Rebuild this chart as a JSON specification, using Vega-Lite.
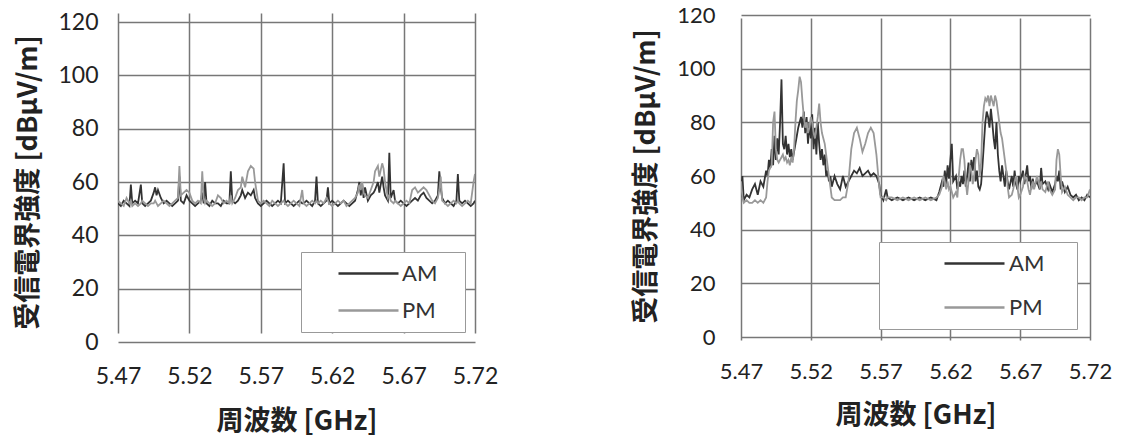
{
  "$schema": "https://vega.github.io/schema/vega-lite/v6.json",
  "background": "white",
  "padding": {"left": 14, "top": 4, "right": 5, "bottom": 5},
  "spacing": 134,
  "config": {
    "view": {"stroke": null},
    "axis": {
      "labelFont": "Lato", "labelFontSize": 23, "labelColor": "#222", "labelFlush": false, "labelOverlap": false,
      "titleFont": "Noto Sans CJK JP", "titleFontWeight": "bold", "titleFontSize": 27, "titleColor": "#222",
      "gridColor": "#777", "gridWidth": 1.5, "domain": false, "ticks": false
    },
    "legend": {
      "orient": "bottom-right", "title": null,
      "strokeColor": "#999", "padding": 10, "symbolType": "M-3,0H3",
      "symbolSize": 400, "symbolStrokeWidth": 2.5, "labelFont": "Lato", "labelFontSize": 22,
      "labelColor": "#333", "fillColor": "white"
    }
  },
  "datasets": {
    "left": [
      {"f":5.470,"AM":52,"PM":53},{"f":5.472,"AM":51,"PM":52},{"f":5.474,"AM":53,"PM":51},{"f":5.476,"AM":52,"PM":54},
      {"f":5.478,"AM":51,"PM":52},{"f":5.479,"AM":59,"PM":53},{"f":5.480,"AM":52,"PM":51},{"f":5.482,"AM":53,"PM":52},
      {"f":5.484,"AM":52,"PM":51},{"f":5.486,"AM":59,"PM":52},{"f":5.487,"AM":52,"PM":53},{"f":5.489,"AM":51,"PM":52},
      {"f":5.491,"AM":52,"PM":51},{"f":5.493,"AM":53,"PM":52},{"f":5.495,"AM":56,"PM":52},{"f":5.496,"AM":58,"PM":53},
      {"f":5.497,"AM":55,"PM":52},{"f":5.498,"AM":57,"PM":51},{"f":5.500,"AM":54,"PM":52},{"f":5.502,"AM":52,"PM":53},
      {"f":5.504,"AM":53,"PM":52},{"f":5.506,"AM":52,"PM":51},{"f":5.508,"AM":51,"PM":52},{"f":5.510,"AM":52,"PM":53},
      {"f":5.512,"AM":53,"PM":54},{"f":5.513,"AM":62,"PM":66},{"f":5.514,"AM":53,"PM":55},{"f":5.516,"AM":52,"PM":56},
      {"f":5.518,"AM":55,"PM":57},{"f":5.520,"AM":53,"PM":56},{"f":5.522,"AM":52,"PM":53},{"f":5.524,"AM":51,"PM":52},
      {"f":5.526,"AM":52,"PM":53},{"f":5.528,"AM":53,"PM":52},{"f":5.529,"AM":56,"PM":64},{"f":5.530,"AM":52,"PM":54},
      {"f":5.531,"AM":60,"PM":52},{"f":5.532,"AM":52,"PM":53},{"f":5.534,"AM":51,"PM":52},{"f":5.536,"AM":53,"PM":51},
      {"f":5.538,"AM":52,"PM":52},{"f":5.540,"AM":52,"PM":55},{"f":5.542,"AM":51,"PM":54},{"f":5.544,"AM":53,"PM":52},
      {"f":5.546,"AM":52,"PM":53},{"f":5.548,"AM":52,"PM":52},{"f":5.549,"AM":64,"PM":55},{"f":5.550,"AM":53,"PM":52},
      {"f":5.552,"AM":52,"PM":54},{"f":5.554,"AM":53,"PM":57},{"f":5.556,"AM":55,"PM":58},{"f":5.557,"AM":57,"PM":62},
      {"f":5.559,"AM":54,"PM":58},{"f":5.561,"AM":56,"PM":64},{"f":5.563,"AM":55,"PM":66},{"f":5.565,"AM":57,"PM":65},
      {"f":5.566,"AM":54,"PM":60},{"f":5.568,"AM":52,"PM":53},{"f":5.570,"AM":51,"PM":52},{"f":5.572,"AM":52,"PM":53},
      {"f":5.574,"AM":53,"PM":52},{"f":5.576,"AM":52,"PM":51},{"f":5.578,"AM":51,"PM":53},{"f":5.580,"AM":52,"PM":52},
      {"f":5.582,"AM":53,"PM":51},{"f":5.584,"AM":52,"PM":52},{"f":5.586,"AM":67,"PM":53},{"f":5.587,"AM":52,"PM":52},
      {"f":5.589,"AM":53,"PM":51},{"f":5.591,"AM":52,"PM":52},{"f":5.593,"AM":51,"PM":53},{"f":5.595,"AM":52,"PM":52},
      {"f":5.597,"AM":53,"PM":51},{"f":5.599,"AM":52,"PM":57},{"f":5.600,"AM":52,"PM":52},{"f":5.602,"AM":53,"PM":51},
      {"f":5.604,"AM":52,"PM":52},{"f":5.606,"AM":51,"PM":53},{"f":5.608,"AM":53,"PM":52},{"f":5.609,"AM":62,"PM":53},
      {"f":5.610,"AM":52,"PM":52},{"f":5.612,"AM":51,"PM":53},{"f":5.614,"AM":52,"PM":52},{"f":5.616,"AM":53,"PM":54},
      {"f":5.617,"AM":58,"PM":53},{"f":5.618,"AM":52,"PM":52},{"f":5.620,"AM":53,"PM":51},{"f":5.622,"AM":52,"PM":52},
      {"f":5.624,"AM":51,"PM":53},{"f":5.626,"AM":52,"PM":52},{"f":5.628,"AM":53,"PM":53},{"f":5.630,"AM":52,"PM":51},
      {"f":5.632,"AM":51,"PM":52},{"f":5.634,"AM":52,"PM":53},{"f":5.636,"AM":53,"PM":54},{"f":5.638,"AM":57,"PM":56},
      {"f":5.639,"AM":60,"PM":59},{"f":5.640,"AM":55,"PM":57},{"f":5.641,"AM":59,"PM":60},{"f":5.642,"AM":54,"PM":56},
      {"f":5.643,"AM":58,"PM":55},{"f":5.645,"AM":53,"PM":54},{"f":5.647,"AM":55,"PM":57},{"f":5.649,"AM":56,"PM":60},
      {"f":5.650,"AM":57,"PM":64},{"f":5.652,"AM":60,"PM":66},{"f":5.653,"AM":56,"PM":62},{"f":5.655,"AM":62,"PM":67},
      {"f":5.656,"AM":58,"PM":65},{"f":5.657,"AM":55,"PM":60},{"f":5.659,"AM":53,"PM":54},{"f":5.660,"AM":71,"PM":55},
      {"f":5.661,"AM":54,"PM":53},{"f":5.663,"AM":57,"PM":52},{"f":5.664,"AM":53,"PM":53},{"f":5.666,"AM":52,"PM":52},
      {"f":5.668,"AM":53,"PM":51},{"f":5.670,"AM":52,"PM":52},{"f":5.672,"AM":51,"PM":53},{"f":5.674,"AM":52,"PM":52},
      {"f":5.676,"AM":53,"PM":57},{"f":5.678,"AM":54,"PM":58},{"f":5.680,"AM":53,"PM":56},{"f":5.682,"AM":55,"PM":57},
      {"f":5.684,"AM":56,"PM":58},{"f":5.686,"AM":54,"PM":57},{"f":5.688,"AM":53,"PM":55},{"f":5.690,"AM":52,"PM":53},
      {"f":5.692,"AM":53,"PM":52},{"f":5.694,"AM":55,"PM":54},{"f":5.695,"AM":64,"PM":57},{"f":5.696,"AM":58,"PM":62},
      {"f":5.697,"AM":54,"PM":53},{"f":5.699,"AM":52,"PM":52},{"f":5.701,"AM":53,"PM":51},{"f":5.703,"AM":52,"PM":52},
      {"f":5.705,"AM":51,"PM":53},{"f":5.707,"AM":53,"PM":52},{"f":5.708,"AM":63,"PM":53},{"f":5.709,"AM":53,"PM":52},
      {"f":5.711,"AM":52,"PM":51},{"f":5.713,"AM":53,"PM":52},{"f":5.715,"AM":52,"PM":53},{"f":5.717,"AM":51,"PM":52},
      {"f":5.719,"AM":52,"PM":60},{"f":5.720,"AM":53,"PM":63}
    ],
    "right": [
      {"f":5.470,"AM":52,"PM":58},{"f":5.471,"AM":60,"PM":52},{"f":5.472,"AM":51,"PM":50},{"f":5.474,"AM":53,"PM":51},
      {"f":5.476,"AM":52,"PM":50},{"f":5.478,"AM":55,"PM":50},{"f":5.480,"AM":57,"PM":51},{"f":5.482,"AM":53,"PM":50},
      {"f":5.484,"AM":58,"PM":51},{"f":5.486,"AM":56,"PM":50},{"f":5.488,"AM":62,"PM":52},{"f":5.489,"AM":60,"PM":58},
      {"f":5.490,"AM":66,"PM":62},{"f":5.491,"AM":63,"PM":63},{"f":5.492,"AM":70,"PM":64},{"f":5.493,"AM":64,"PM":80},
      {"f":5.494,"AM":75,"PM":84},{"f":5.495,"AM":66,"PM":70},{"f":5.496,"AM":74,"PM":66},{"f":5.497,"AM":68,"PM":65},
      {"f":5.498,"AM":80,"PM":66},{"f":5.499,"AM":96,"PM":67},{"f":5.500,"AM":72,"PM":68},{"f":5.501,"AM":70,"PM":66},
      {"f":5.502,"AM":75,"PM":67},{"f":5.503,"AM":68,"PM":65},{"f":5.504,"AM":72,"PM":66},{"f":5.505,"AM":67,"PM":64},
      {"f":5.506,"AM":70,"PM":67},{"f":5.507,"AM":66,"PM":65},{"f":5.508,"AM":69,"PM":70},{"f":5.509,"AM":72,"PM":80},
      {"f":5.510,"AM":75,"PM":88},{"f":5.511,"AM":78,"PM":92},{"f":5.512,"AM":80,"PM":97},{"f":5.513,"AM":82,"PM":95},
      {"f":5.514,"AM":78,"PM":88},{"f":5.515,"AM":84,"PM":82},{"f":5.516,"AM":76,"PM":78},{"f":5.517,"AM":82,"PM":80},
      {"f":5.518,"AM":72,"PM":76},{"f":5.519,"AM":80,"PM":78},{"f":5.520,"AM":74,"PM":82},{"f":5.521,"AM":83,"PM":80},
      {"f":5.522,"AM":70,"PM":76},{"f":5.523,"AM":78,"PM":74},{"f":5.524,"AM":68,"PM":78},{"f":5.525,"AM":80,"PM":82},
      {"f":5.526,"AM":72,"PM":87},{"f":5.527,"AM":66,"PM":80},{"f":5.528,"AM":70,"PM":76},{"f":5.529,"AM":64,"PM":74},
      {"f":5.530,"AM":68,"PM":72},{"f":5.531,"AM":60,"PM":68},{"f":5.532,"AM":62,"PM":64},{"f":5.533,"AM":58,"PM":60},
      {"f":5.534,"AM":60,"PM":56},{"f":5.535,"AM":56,"PM":52},{"f":5.537,"AM":60,"PM":51},{"f":5.539,"AM":57,"PM":51},
      {"f":5.541,"AM":55,"PM":51},{"f":5.543,"AM":60,"PM":52},{"f":5.545,"AM":56,"PM":52},{"f":5.547,"AM":58,"PM":58},
      {"f":5.549,"AM":60,"PM":70},{"f":5.551,"AM":62,"PM":76},{"f":5.553,"AM":61,"PM":78},{"f":5.555,"AM":63,"PM":74},
      {"f":5.557,"AM":60,"PM":69},{"f":5.559,"AM":61,"PM":72},{"f":5.561,"AM":62,"PM":76},{"f":5.563,"AM":60,"PM":78},
      {"f":5.565,"AM":61,"PM":76},{"f":5.567,"AM":60,"PM":68},{"f":5.569,"AM":57,"PM":56},{"f":5.570,"AM":53,"PM":52},
      {"f":5.572,"AM":51,"PM":52},{"f":5.574,"AM":55,"PM":51},{"f":5.575,"AM":52,"PM":52},{"f":5.578,"AM":51,"PM":52},
      {"f":5.582,"AM":52,"PM":51},{"f":5.586,"AM":51,"PM":52},{"f":5.590,"AM":52,"PM":51},{"f":5.594,"AM":51,"PM":52},
      {"f":5.598,"AM":52,"PM":51},{"f":5.602,"AM":51,"PM":52},{"f":5.606,"AM":52,"PM":51},{"f":5.610,"AM":51,"PM":52},
      {"f":5.612,"AM":54,"PM":53},{"f":5.614,"AM":58,"PM":56},{"f":5.615,"AM":56,"PM":60},{"f":5.616,"AM":62,"PM":58},
      {"f":5.617,"AM":57,"PM":55},{"f":5.618,"AM":64,"PM":58},{"f":5.619,"AM":59,"PM":55},{"f":5.620,"AM":66,"PM":56},
      {"f":5.621,"AM":72,"PM":54},{"f":5.622,"AM":58,"PM":52},{"f":5.624,"AM":60,"PM":54},{"f":5.625,"AM":55,"PM":52},
      {"f":5.626,"AM":58,"PM":60},{"f":5.627,"AM":56,"PM":66},{"f":5.628,"AM":60,"PM":70},{"f":5.629,"AM":57,"PM":70},
      {"f":5.630,"AM":62,"PM":66},{"f":5.631,"AM":56,"PM":58},{"f":5.632,"AM":60,"PM":53},{"f":5.633,"AM":65,"PM":58},
      {"f":5.634,"AM":58,"PM":64},{"f":5.635,"AM":66,"PM":62},{"f":5.636,"AM":62,"PM":57},{"f":5.637,"AM":67,"PM":60},
      {"f":5.638,"AM":58,"PM":66},{"f":5.639,"AM":62,"PM":70},{"f":5.640,"AM":56,"PM":68},{"f":5.641,"AM":55,"PM":60},
      {"f":5.642,"AM":57,"PM":65},{"f":5.643,"AM":64,"PM":80},{"f":5.644,"AM":72,"PM":86},{"f":5.645,"AM":80,"PM":89},
      {"f":5.646,"AM":84,"PM":88},{"f":5.647,"AM":82,"PM":90},{"f":5.648,"AM":78,"PM":86},{"f":5.649,"AM":85,"PM":90},
      {"f":5.650,"AM":80,"PM":88},{"f":5.651,"AM":74,"PM":86},{"f":5.652,"AM":70,"PM":90},{"f":5.653,"AM":80,"PM":88},
      {"f":5.654,"AM":68,"PM":84},{"f":5.655,"AM":62,"PM":80},{"f":5.656,"AM":58,"PM":76},{"f":5.657,"AM":64,"PM":74},
      {"f":5.658,"AM":60,"PM":70},{"f":5.659,"AM":56,"PM":66},{"f":5.660,"AM":62,"PM":62},{"f":5.661,"AM":58,"PM":56},
      {"f":5.662,"AM":55,"PM":52},{"f":5.664,"AM":60,"PM":53},{"f":5.665,"AM":56,"PM":55},{"f":5.666,"AM":62,"PM":58},
      {"f":5.667,"AM":57,"PM":60},{"f":5.668,"AM":55,"PM":56},{"f":5.669,"AM":60,"PM":52},{"f":5.670,"AM":58,"PM":53},
      {"f":5.672,"AM":62,"PM":56},{"f":5.673,"AM":57,"PM":60},{"f":5.675,"AM":64,"PM":58},{"f":5.676,"AM":58,"PM":55},
      {"f":5.677,"AM":60,"PM":53},{"f":5.678,"AM":55,"PM":56},{"f":5.679,"AM":59,"PM":58},{"f":5.680,"AM":56,"PM":55},
      {"f":5.682,"AM":58,"PM":60},{"f":5.684,"AM":55,"PM":56},{"f":5.685,"AM":63,"PM":58},{"f":5.686,"AM":57,"PM":55},
      {"f":5.688,"AM":58,"PM":54},{"f":5.690,"AM":55,"PM":58},{"f":5.691,"AM":57,"PM":55},{"f":5.693,"AM":54,"PM":53},
      {"f":5.695,"AM":57,"PM":55},{"f":5.696,"AM":60,"PM":66},{"f":5.697,"AM":58,"PM":70},{"f":5.698,"AM":62,"PM":68},
      {"f":5.699,"AM":55,"PM":60},{"f":5.700,"AM":58,"PM":54},{"f":5.702,"AM":54,"PM":56},{"f":5.704,"AM":56,"PM":53},
      {"f":5.706,"AM":53,"PM":52},{"f":5.708,"AM":52,"PM":51},{"f":5.710,"AM":53,"PM":52},{"f":5.712,"AM":51,"PM":52},
      {"f":5.714,"AM":52,"PM":51},{"f":5.716,"AM":51,"PM":52},{"f":5.718,"AM":53,"PM":52},{"f":5.720,"AM":52,"PM":55}
    ]
  },
  "hconcat": [
    {
      "width": 357, "height": 329,
      "data": {"name": "left"},
      "transform": [{"fold": ["AM", "PM"], "as": ["s", "v"]}],
      "mark": {"type": "line", "strokeWidth": 1.8, "interpolate": "linear", "clip": true},
      "encoding": {
        "x": {"field": "f", "type": "quantitative", "scale": {"domain": [5.47, 5.72], "nice": false},
              "axis": {"values": [5.47, 5.52, 5.57, 5.62, 5.67, 5.72], "format": ".2f", "title": "周波数   [GHz]", "labelPadding": 23, "titlePadding": 20}},
        "y": {"field": "v", "type": "quantitative", "scale": {"domain": [0, 120], "nice": false, "range": [329, 9]},
              "axis": {"values": [0, 20, 40, 60, 80, 100, 120], "title": "受信電界強度   [dBμV/m]", "labelPadding": 20, "titlePadding": 15}},
        "color": {"field": "s", "type": "nominal", "scale": {"domain": ["AM", "PM"], "range": ["#333333", "#999999"]},
                  "legend": {"offset": 10, "symbolOffset": 46, "labelOffset": 22, "rowPadding": 14, "labelExpr": "datum.label + '\u00a0\u00a0\u00a0\u200b'"}},
        "order": {"field": "s", "sort": "descending"}
      }
    },
    {
      "width": 349, "height": 329,
      "data": {"name": "right"},
      "transform": [{"fold": ["AM", "PM"], "as": ["s", "v"]}],
      "mark": {"type": "line", "strokeWidth": 1.8, "interpolate": "linear", "clip": true},
      "encoding": {
        "x": {"field": "f", "type": "quantitative", "scale": {"domain": [5.47, 5.72], "nice": false},
              "axis": {"values": [5.47, 5.52, 5.57, 5.62, 5.67, 5.72], "format": ".2f", "title": "周波数   [GHz]", "labelPadding": 19, "titlePadding": 20, "labelFontSize": 22}},
        "y": {"field": "v", "type": "quantitative", "scale": {"domain": [0, 120], "nice": false, "range": [324, 2]},
              "axis": {"values": [0, 20, 40, 60, 80, 100, 120], "title": "受信電界強度   [dBμV/m]", "labelPadding": 26, "titlePadding": 16, "labelFontSize": 22}},
        "color": {"field": "s", "type": "nominal", "scale": {"domain": ["AM", "PM"], "range": ["#333333", "#999999"]},
                  "legend": {"offset": 13, "symbolOffset": 74, "labelOffset": 23, "rowPadding": 21, "labelExpr": "datum.label + '\u00a0\u00a0\u00a0\u00a0\u200b'"}}
      }
    }
  ],
  "resolve": {"scale": {"color": "independent"}, "legend": {"color": "independent"}}
}
